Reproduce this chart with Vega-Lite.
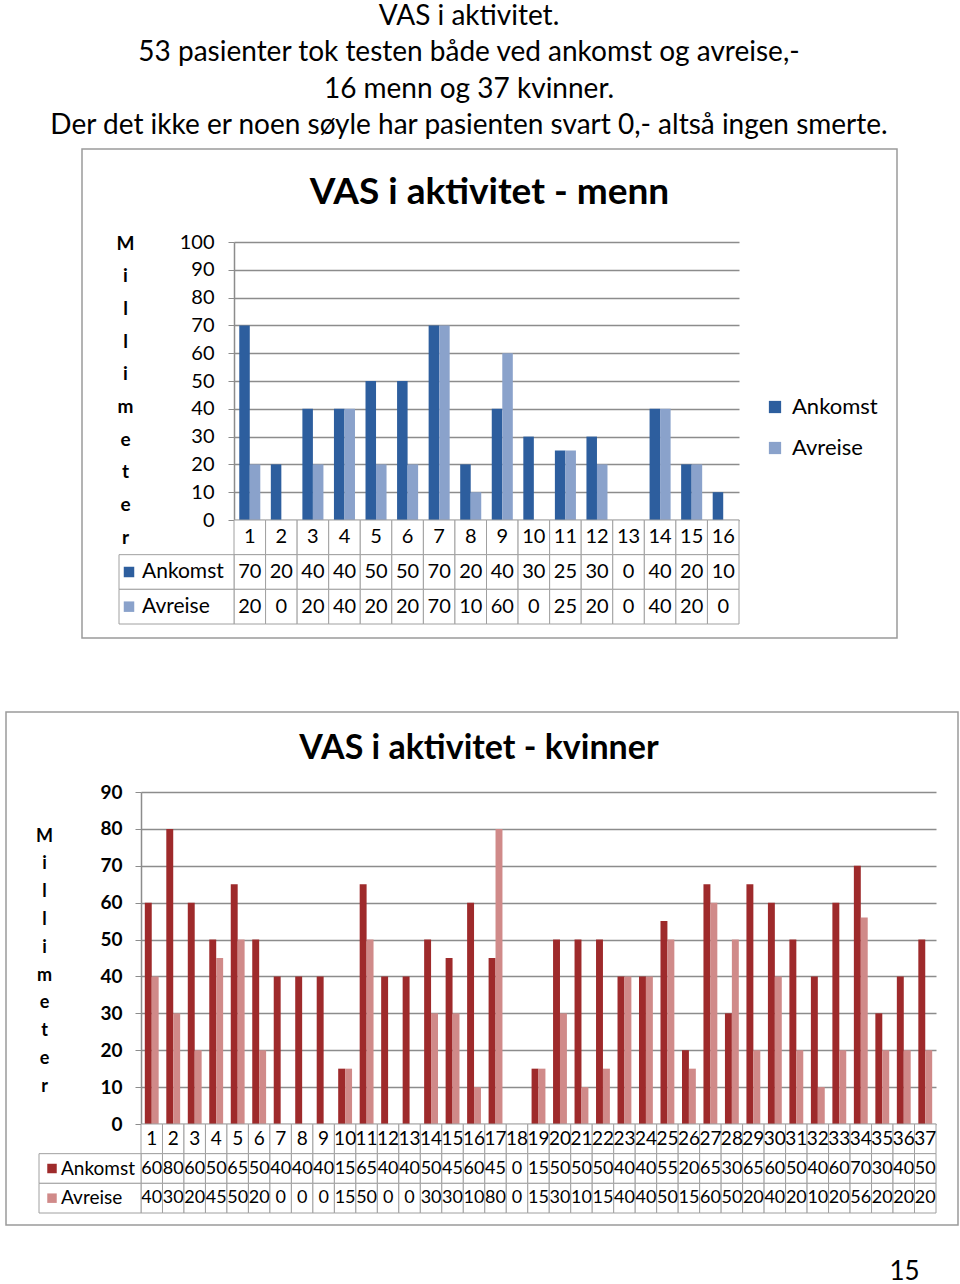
{
  "$schema": "https://vega.github.io/schema/vega-lite/v6.json",
  "background": "white",
  "padding": {"left": 5, "top": 2, "right": 0, "bottom": 0},
  "title": {
    "text": ["VAS i aktivitet.", "53 pasienter tok testen både ved ankomst og avreise,-", "16 menn og  37 kvinner.", "Der det ikke er noen søyle har pasienten svart 0,- altså ingen smerte."],
    "fontSize": 28, "font": "Lato", "fontWeight": "normal", "lineHeight": 36.5, "anchor": "middle", "dx": -13, "offset": 8, "color": "black"
  },
  "datasets": {
    "menn": [
      {"pasient": 1, "serie": "Ankomst", "mm": 70}, {"pasient": 1, "serie": "Avreise", "mm": 20},
      {"pasient": 2, "serie": "Ankomst", "mm": 20}, {"pasient": 2, "serie": "Avreise", "mm": 0},
      {"pasient": 3, "serie": "Ankomst", "mm": 40}, {"pasient": 3, "serie": "Avreise", "mm": 20},
      {"pasient": 4, "serie": "Ankomst", "mm": 40}, {"pasient": 4, "serie": "Avreise", "mm": 40},
      {"pasient": 5, "serie": "Ankomst", "mm": 50}, {"pasient": 5, "serie": "Avreise", "mm": 20},
      {"pasient": 6, "serie": "Ankomst", "mm": 50}, {"pasient": 6, "serie": "Avreise", "mm": 20},
      {"pasient": 7, "serie": "Ankomst", "mm": 70}, {"pasient": 7, "serie": "Avreise", "mm": 70},
      {"pasient": 8, "serie": "Ankomst", "mm": 20}, {"pasient": 8, "serie": "Avreise", "mm": 10},
      {"pasient": 9, "serie": "Ankomst", "mm": 40}, {"pasient": 9, "serie": "Avreise", "mm": 60},
      {"pasient": 10, "serie": "Ankomst", "mm": 30}, {"pasient": 10, "serie": "Avreise", "mm": 0},
      {"pasient": 11, "serie": "Ankomst", "mm": 25}, {"pasient": 11, "serie": "Avreise", "mm": 25},
      {"pasient": 12, "serie": "Ankomst", "mm": 30}, {"pasient": 12, "serie": "Avreise", "mm": 20},
      {"pasient": 13, "serie": "Ankomst", "mm": 0}, {"pasient": 13, "serie": "Avreise", "mm": 0},
      {"pasient": 14, "serie": "Ankomst", "mm": 40}, {"pasient": 14, "serie": "Avreise", "mm": 40},
      {"pasient": 15, "serie": "Ankomst", "mm": 20}, {"pasient": 15, "serie": "Avreise", "mm": 20},
      {"pasient": 16, "serie": "Ankomst", "mm": 10}, {"pasient": 16, "serie": "Avreise", "mm": 0}
    ],
    "kvinner": [
      {"pasient": 1, "serie": "Ankomst", "mm": 60}, {"pasient": 1, "serie": "Avreise", "mm": 40},
      {"pasient": 2, "serie": "Ankomst", "mm": 80}, {"pasient": 2, "serie": "Avreise", "mm": 30},
      {"pasient": 3, "serie": "Ankomst", "mm": 60}, {"pasient": 3, "serie": "Avreise", "mm": 20},
      {"pasient": 4, "serie": "Ankomst", "mm": 50}, {"pasient": 4, "serie": "Avreise", "mm": 45},
      {"pasient": 5, "serie": "Ankomst", "mm": 65}, {"pasient": 5, "serie": "Avreise", "mm": 50},
      {"pasient": 6, "serie": "Ankomst", "mm": 50}, {"pasient": 6, "serie": "Avreise", "mm": 20},
      {"pasient": 7, "serie": "Ankomst", "mm": 40}, {"pasient": 7, "serie": "Avreise", "mm": 0},
      {"pasient": 8, "serie": "Ankomst", "mm": 40}, {"pasient": 8, "serie": "Avreise", "mm": 0},
      {"pasient": 9, "serie": "Ankomst", "mm": 40}, {"pasient": 9, "serie": "Avreise", "mm": 0},
      {"pasient": 10, "serie": "Ankomst", "mm": 15}, {"pasient": 10, "serie": "Avreise", "mm": 15},
      {"pasient": 11, "serie": "Ankomst", "mm": 65}, {"pasient": 11, "serie": "Avreise", "mm": 50},
      {"pasient": 12, "serie": "Ankomst", "mm": 40}, {"pasient": 12, "serie": "Avreise", "mm": 0},
      {"pasient": 13, "serie": "Ankomst", "mm": 40}, {"pasient": 13, "serie": "Avreise", "mm": 0},
      {"pasient": 14, "serie": "Ankomst", "mm": 50}, {"pasient": 14, "serie": "Avreise", "mm": 30},
      {"pasient": 15, "serie": "Ankomst", "mm": 45}, {"pasient": 15, "serie": "Avreise", "mm": 30},
      {"pasient": 16, "serie": "Ankomst", "mm": 60}, {"pasient": 16, "serie": "Avreise", "mm": 10},
      {"pasient": 17, "serie": "Ankomst", "mm": 45}, {"pasient": 17, "serie": "Avreise", "mm": 80},
      {"pasient": 18, "serie": "Ankomst", "mm": 0}, {"pasient": 18, "serie": "Avreise", "mm": 0},
      {"pasient": 19, "serie": "Ankomst", "mm": 15}, {"pasient": 19, "serie": "Avreise", "mm": 15},
      {"pasient": 20, "serie": "Ankomst", "mm": 50}, {"pasient": 20, "serie": "Avreise", "mm": 30},
      {"pasient": 21, "serie": "Ankomst", "mm": 50}, {"pasient": 21, "serie": "Avreise", "mm": 10},
      {"pasient": 22, "serie": "Ankomst", "mm": 50}, {"pasient": 22, "serie": "Avreise", "mm": 15},
      {"pasient": 23, "serie": "Ankomst", "mm": 40}, {"pasient": 23, "serie": "Avreise", "mm": 40},
      {"pasient": 24, "serie": "Ankomst", "mm": 40}, {"pasient": 24, "serie": "Avreise", "mm": 40},
      {"pasient": 25, "serie": "Ankomst", "mm": 55}, {"pasient": 25, "serie": "Avreise", "mm": 50},
      {"pasient": 26, "serie": "Ankomst", "mm": 20}, {"pasient": 26, "serie": "Avreise", "mm": 15},
      {"pasient": 27, "serie": "Ankomst", "mm": 65}, {"pasient": 27, "serie": "Avreise", "mm": 60},
      {"pasient": 28, "serie": "Ankomst", "mm": 30}, {"pasient": 28, "serie": "Avreise", "mm": 50},
      {"pasient": 29, "serie": "Ankomst", "mm": 65}, {"pasient": 29, "serie": "Avreise", "mm": 20},
      {"pasient": 30, "serie": "Ankomst", "mm": 60}, {"pasient": 30, "serie": "Avreise", "mm": 40},
      {"pasient": 31, "serie": "Ankomst", "mm": 50}, {"pasient": 31, "serie": "Avreise", "mm": 20},
      {"pasient": 32, "serie": "Ankomst", "mm": 40}, {"pasient": 32, "serie": "Avreise", "mm": 10},
      {"pasient": 33, "serie": "Ankomst", "mm": 60}, {"pasient": 33, "serie": "Avreise", "mm": 20},
      {"pasient": 34, "serie": "Ankomst", "mm": 70}, {"pasient": 34, "serie": "Avreise", "mm": 56},
      {"pasient": 35, "serie": "Ankomst", "mm": 30}, {"pasient": 35, "serie": "Avreise", "mm": 20},
      {"pasient": 36, "serie": "Ankomst", "mm": 40}, {"pasient": 36, "serie": "Avreise", "mm": 20},
      {"pasient": 37, "serie": "Ankomst", "mm": 50}, {"pasient": 37, "serie": "Avreise", "mm": 20}
    ]
  },
  "spacing": 72,
  "resolve": {"scale": {"color": "independent", "xOffset": "independent"}, "legend": {"color": "independent"}},
  "vconcat": [
    {
      "spacing": 0,
      "hconcat": [
        {"width": 75, "height": 10, "data": {"values": []}, "mark": "point", "view": {"stroke": null}},
        {
          "width": 815, "height": 489,
          "data": {"name": "menn"},
          "title": {"text": "VAS i aktivitet - menn", "fontSize": 37, "fontWeight": "bold", "offset": -92, "baseline": "alphabetic", "anchor": "middle", "frame": "group"},
          "resolve": {"scale": {"x": "independent", "y": "independent"}},
          "layer": [
            {
              "mark": {"type": "bar"},
              "encoding": {
                "x": {"field": "pasient", "type": "ordinal", "scale": {"range": [152, 657], "paddingInner": 0, "paddingOuter": 0}, "axis": null},
                "xOffset": {"field": "serie", "type": "nominal", "scale": {"paddingInner": 0, "paddingOuter": 0.5}},
                "y": {"field": "mm", "type": "quantitative", "scale": {"domain": [0, 100], "range": [371, 93], "nice": false, "zero": true},
                  "axis": {"orient": "left", "offset": -152, "values": [0, 10, 20, 30, 40, 50, 60, 70, 80, 90, 100], "grid": true, "gridColor": "#8c8c8c", "gridWidth": 1.5, "domainColor": "#8c8c8c", "domainWidth": 1.5, "tickColor": "#8c8c8c", "tickSize": 6, "labelPadding": 14, "labelFontSize": 20, "labelFlush": false, "labelOverlap": false,
                    "title": ["M", "i", "l", "l", "i", "m", "e", "t", "e", "r"], "titleAngle": 0, "titleX": -109, "titleY": 85, "titleBaseline": "top", "titleAlign": "center", "titleLineHeight": 32.7, "titleFontSize": 19, "titleFontWeight": "bold"}},
                "color": {"field": "serie", "type": "nominal", "scale": {"domain": ["Ankomst", "Avreise"], "range": ["#2D5E9E", "#8AA2CB"]},
                  "legend": {"orient": "none", "legendX": 758, "legendY": 247, "title": null, "symbolType": "square", "symbolSize": 150, "labelFontSize": 22, "labelOffset": 6, "rowPadding": 19, "padding": 0}}
              }
            },
            {
              "layer": [
                {
                  "transform": [{"filter": "datum.serie === 'Ankomst'"}],
                  "mark": {"type": "rect", "fill": "white", "stroke": "#a0a0a0", "strokeWidth": 1},
                  "encoding": {
                    "x": {"field": "pasient", "type": "ordinal", "scale": {"range": [152, 657], "paddingInner": 0, "paddingOuter": 0}, "axis": null},
                    "y": {"datum": "nr", "type": "nominal", "scale": {"domain": ["nr", "Ankomst", "Avreise"], "range": [371, 475], "paddingInner": 0, "paddingOuter": 0}, "axis": null}
                  }
                },
                {
                  "transform": [{"filter": "datum.serie === 'Ankomst'"}],
                  "mark": {"type": "text", "fontSize": 20, "color": "black", "baseline": "middle"},
                  "encoding": {
                    "x": {"field": "pasient", "type": "ordinal", "scale": {"range": [152, 657], "paddingInner": 0, "paddingOuter": 0}, "axis": null},
                    "y": {"datum": "nr", "type": "nominal", "scale": {"domain": ["nr", "Ankomst", "Avreise"], "range": [371, 475], "paddingInner": 0, "paddingOuter": 0}, "axis": null},
                    "text": {"field": "pasient", "type": "ordinal"}
                  }
                },
                {
                  "mark": {"type": "rect", "fill": "white", "stroke": "#a0a0a0", "strokeWidth": 1},
                  "encoding": {
                    "x": {"field": "pasient", "type": "ordinal", "scale": {"range": [152, 657], "paddingInner": 0, "paddingOuter": 0}, "axis": null},
                    "y": {"field": "serie", "type": "nominal", "scale": {"domain": ["nr", "Ankomst", "Avreise"], "range": [371, 475], "paddingInner": 0, "paddingOuter": 0}, "axis": null}
                  }
                },
                {
                  "mark": {"type": "text", "fontSize": 20, "color": "black", "baseline": "middle"},
                  "encoding": {
                    "x": {"field": "pasient", "type": "ordinal", "scale": {"range": [152, 657], "paddingInner": 0, "paddingOuter": 0}, "axis": null},
                    "y": {"field": "serie", "type": "nominal", "scale": {"domain": ["nr", "Ankomst", "Avreise"], "range": [371, 475], "paddingInner": 0, "paddingOuter": 0}, "axis": null},
                    "text": {"field": "mm", "type": "quantitative"}
                  }
                }
              ]
            },
            {
              "transform": [{"aggregate": [{"op": "count", "as": "n"}], "groupby": ["serie"]}],
              "layer": [
                {
                  "mark": {"type": "rect", "fill": "white", "stroke": "#a0a0a0", "strokeWidth": 1},
                  "encoding": {
                    "x": {"datum": "hdr", "type": "nominal", "scale": {"range": [37, 152], "paddingInner": 0, "paddingOuter": 0}, "axis": null},
                    "y": {"field": "serie", "type": "nominal", "scale": {"domain": ["nr", "Ankomst", "Avreise"], "range": [371, 475], "paddingInner": 0, "paddingOuter": 0}, "axis": null}
                  }
                },
                {
                  "mark": {"type": "point", "shape": "square", "filled": true, "size": 110, "opacity": 1, "xOffset": -47.5},
                  "encoding": {
                    "x": {"datum": "hdr", "type": "nominal", "scale": {"range": [37, 152], "paddingInner": 0, "paddingOuter": 0}, "axis": null},
                    "y": {"field": "serie", "type": "nominal", "scale": {"domain": ["nr", "Ankomst", "Avreise"], "range": [371, 475], "paddingInner": 0, "paddingOuter": 0}, "axis": null},
                    "color": {"field": "serie", "type": "nominal"}
                  }
                },
                {
                  "mark": {"type": "text", "align": "left", "baseline": "middle", "dx": -34.5, "fontSize": 21, "color": "black"},
                  "encoding": {
                    "x": {"datum": "hdr", "type": "nominal", "scale": {"range": [37, 152], "paddingInner": 0, "paddingOuter": 0}, "axis": null},
                    "y": {"field": "serie", "type": "nominal", "scale": {"domain": ["nr", "Ankomst", "Avreise"], "range": [371, 475], "paddingInner": 0, "paddingOuter": 0}, "axis": null},
                    "text": {"field": "serie", "type": "nominal"}
                  }
                }
              ]
            }
          ]
        }
      ]
    },
    {
      "width": 952, "height": 513,
      "data": {"name": "kvinner"},
      "title": {"text": "VAS i aktivitet -  kvinner", "fontSize": 34, "fontWeight": "bold", "offset": -81, "baseline": "alphabetic", "anchor": "middle", "frame": "group", "dx": -3},
      "resolve": {"scale": {"x": "independent", "y": "independent"}},
      "layer": [
        {
          "mark": {"type": "bar"},
          "encoding": {
            "x": {"field": "pasient", "type": "ordinal", "scale": {"range": [135, 930], "paddingInner": 0, "paddingOuter": 0}, "axis": null},
            "xOffset": {"field": "serie", "type": "nominal", "scale": {"paddingInner": 0, "paddingOuter": 0.55}},
            "y": {"field": "mm", "type": "quantitative", "scale": {"domain": [0, 90], "range": [412, 80], "nice": false, "zero": true},
              "axis": {"orient": "left", "offset": -135, "values": [0, 10, 20, 30, 40, 50, 60, 70, 80, 90], "grid": true, "gridColor": "#8c8c8c", "gridWidth": 1.5, "domainColor": "#8c8c8c", "domainWidth": 1.5, "tickColor": "#8c8c8c", "tickSize": 6, "labelPadding": 13, "labelFontSize": 19, "labelFontWeight": "bold", "labelFlush": false, "labelOverlap": false,
                "title": ["M", "i", "l", "l", "i", "m", "e", "t", "e", "r"], "titleAngle": 0, "titleX": -97, "titleY": 115, "titleBaseline": "top", "titleAlign": "center", "titleLineHeight": 27.8, "titleFontSize": 18, "titleFontWeight": "bold"}},
            "color": {"field": "serie", "type": "nominal", "scale": {"domain": ["Ankomst", "Avreise"], "range": ["#9E2A2B", "#D08A89"]}, "legend": null}
          }
        },
        {
          "layer": [
            {
              "transform": [{"filter": "datum.serie === 'Ankomst'"}],
              "mark": {"type": "rect", "fill": "white", "stroke": "#a0a0a0", "strokeWidth": 1},
              "encoding": {
                "x": {"field": "pasient", "type": "ordinal", "scale": {"range": [135, 930], "paddingInner": 0, "paddingOuter": 0}, "axis": null},
                "y": {"datum": "nr", "type": "nominal", "scale": {"domain": ["nr", "Ankomst", "Avreise"], "range": [412, 501], "paddingInner": 0, "paddingOuter": 0}, "axis": null}
              }
            },
            {
              "transform": [{"filter": "datum.serie === 'Ankomst'"}],
              "mark": {"type": "text", "fontSize": 19, "color": "black", "baseline": "middle"},
              "encoding": {
                "x": {"field": "pasient", "type": "ordinal", "scale": {"range": [135, 930], "paddingInner": 0, "paddingOuter": 0}, "axis": null},
                "y": {"datum": "nr", "type": "nominal", "scale": {"domain": ["nr", "Ankomst", "Avreise"], "range": [412, 501], "paddingInner": 0, "paddingOuter": 0}, "axis": null},
                "text": {"field": "pasient", "type": "ordinal"}
              }
            },
            {
              "mark": {"type": "rect", "fill": "white", "stroke": "#a0a0a0", "strokeWidth": 1},
              "encoding": {
                "x": {"field": "pasient", "type": "ordinal", "scale": {"range": [135, 930], "paddingInner": 0, "paddingOuter": 0}, "axis": null},
                "y": {"field": "serie", "type": "nominal", "scale": {"domain": ["nr", "Ankomst", "Avreise"], "range": [412, 501], "paddingInner": 0, "paddingOuter": 0}, "axis": null}
              }
            },
            {
              "mark": {"type": "text", "fontSize": 18, "color": "black", "baseline": "middle"},
              "encoding": {
                "x": {"field": "pasient", "type": "ordinal", "scale": {"range": [135, 930], "paddingInner": 0, "paddingOuter": 0}, "axis": null},
                "y": {"field": "serie", "type": "nominal", "scale": {"domain": ["nr", "Ankomst", "Avreise"], "range": [412, 501], "paddingInner": 0, "paddingOuter": 0}, "axis": null},
                "text": {"field": "mm", "type": "quantitative"}
              }
            }
          ]
        },
        {
          "transform": [{"aggregate": [{"op": "count", "as": "n"}], "groupby": ["serie"]}],
          "layer": [
            {
              "mark": {"type": "rect", "fill": "white", "stroke": "#a0a0a0", "strokeWidth": 1},
              "encoding": {
                "x": {"datum": "hdr", "type": "nominal", "scale": {"range": [33, 135], "paddingInner": 0, "paddingOuter": 0},
                  "axis": {"orient": "bottom", "labels": false, "ticks": false, "domain": false, "grid": false, "title": "15", "titleX": 898, "titleY": 54, "titleBaseline": "alphabetic", "titleAlign": "center", "titleFontSize": 26, "titleFontWeight": "normal"}},
                "y": {"field": "serie", "type": "nominal", "scale": {"domain": ["nr", "Ankomst", "Avreise"], "range": [412, 501], "paddingInner": 0, "paddingOuter": 0}, "axis": null}
              }
            },
            {
              "mark": {"type": "point", "shape": "square", "filled": true, "size": 90, "opacity": 1, "xOffset": -38},
              "encoding": {
                "x": {"datum": "hdr", "type": "nominal", "scale": {"range": [33, 135], "paddingInner": 0, "paddingOuter": 0}},
                "y": {"field": "serie", "type": "nominal", "scale": {"domain": ["nr", "Ankomst", "Avreise"], "range": [412, 501], "paddingInner": 0, "paddingOuter": 0}, "axis": null},
                "color": {"field": "serie", "type": "nominal", "legend": null}
              }
            },
            {
              "mark": {"type": "text", "align": "left", "baseline": "middle", "dx": -29, "fontSize": 19, "color": "black"},
              "encoding": {
                "x": {"datum": "hdr", "type": "nominal", "scale": {"range": [33, 135], "paddingInner": 0, "paddingOuter": 0}},
                "y": {"field": "serie", "type": "nominal", "scale": {"domain": ["nr", "Ankomst", "Avreise"], "range": [412, 501], "paddingInner": 0, "paddingOuter": 0}, "axis": null},
                "text": {"field": "serie", "type": "nominal"}
              }
            }
          ]
        }
      ]
    }
  ],
  "config": {
    "font": "Lato",
    "view": {"stroke": "#9b9b9b", "strokeWidth": 1.5},
    "axis": {"labelFont": "Lato", "titleFont": "Lato", "labelColor": "black", "titleColor": "black"},
    "legend": {"labelFont": "Lato", "labelColor": "black", "padding": 0},
    "title": {"font": "Lato", "color": "black"},
    "text": {"font": "Lato"}
  }
}
